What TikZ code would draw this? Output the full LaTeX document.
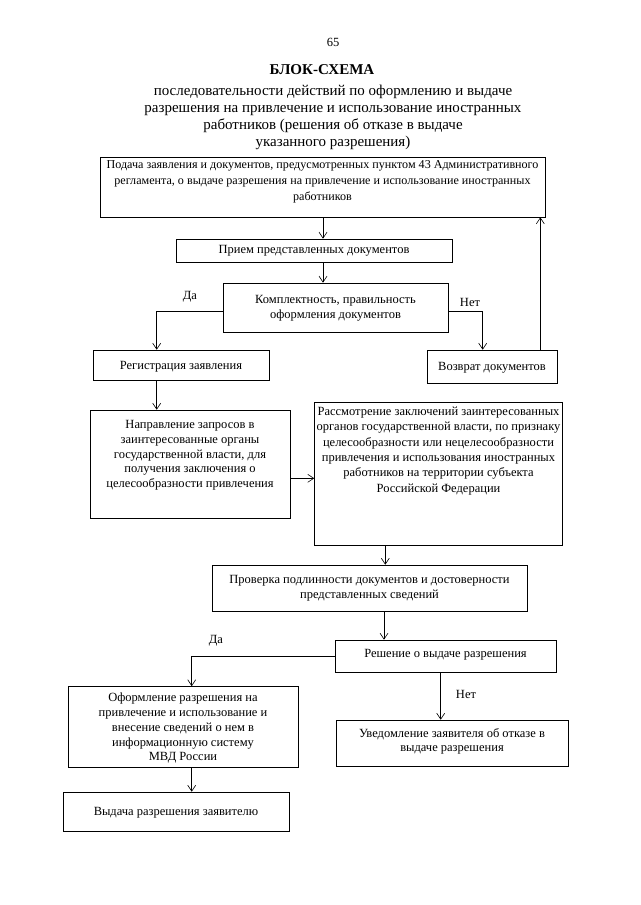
\documentclass[tikz,border=0pt]{standalone}
\usepackage{fontspec}
\setmainfont{Liberation Serif}
\usepackage{tikz}
\usetikzlibrary{calc}
\usetikzlibrary{positioning}
\usetikzlibrary{arrows.meta}
\tikzstyle{stepnode} = [draw, rectangle, align=center, inner xsep=2pt, inner ysep=3pt, font=\fontsize{12.5}{14.7}\selectfont]
\tikzstyle{flow} = [-{Straight Barb[length=6pt,width=8pt]}, line width=0.6pt]
\tikzstyle{lbl} = [font=\fontsize{12.5}{14.7}\selectfont]

\begin{document}
\begin{tikzpicture}[x=1pt, y=-1pt, line width=0.6pt]
    \useasboundingbox (0,0) rectangle (640,905);

    \node[lbl] (page_no) at (333,42) {65};
    \node[font=\fontsize{15}{17}\selectfont\bfseries] (title) at (322,70) {БЛОК-СХЕМА};
    \node[font=\fontsize{15}{17}\selectfont, align=center, anchor=north] (subtitle) at (333,81)
{последовательности действий по оформлению и выдаче\\
разрешения на привлечение и использование иностранных\\
работников (решения об отказе в выдаче\\
указанного разрешения)};

    \node[stepnode, font=\fontsize{12.1}{16}\selectfont, minimum width=445, minimum height=60, text depth=14] (submit) at (322.5,187)
{Подача заявления и документов, предусмотренных пунктом 43 Административного\\
регламента, о выдаче разрешения на привлечение и использование иностранных\\
работников};
    \node[stepnode, minimum width=276, minimum height=23] (accept) at (314,250.5)
{Прием представленных документов};
    \node[stepnode, minimum width=225, minimum height=49, text depth=1] (check) at (335.5,307.5)
{Комплектность, правильность\\ оформления документов};
    \node[stepnode, minimum width=176, minimum height=30, text depth=0] (reg) at (181,365)
{Регистрация заявления};
    \node[stepnode, minimum width=130, minimum height=33, text depth=0] (return) at (492,366.5)
{Возврат документов};

    \node[stepnode, minimum width=200, minimum height=108, text depth=20] (request) at (190,464)
{Направление запросов в\\ заинтересованные органы\\ государственной власти, для\\
получения заключения о\\ целесообразности привлечения};
    \node[stepnode, font=\fontsize{12.5}{15.4}\selectfont, minimum width=243, minimum height=143, text depth=48] (review) at (438.5,473.5)
{Рассмотрение заключений заинтересованных\\ органов государственной власти, по признаку\\
целесообразности или нецелесообразности\\ привлечения и использования иностранных\\
работников на территории субъекта\\ Российской Федерации};

    \node[stepnode, minimum width=315, minimum height=46] (verify) at (369.5,588)
{Проверка подлинности документов и достоверности\\ представленных сведений};
    \node[stepnode, minimum width=221, minimum height=32, text depth=5] (decision) at (445.5,656)
{Решение о выдаче разрешения};
    \node[stepnode, minimum width=230, minimum height=81, text depth=0] (issue) at (183,727)
{Оформление разрешения на\\ привлечение и использование и\\ внесение сведений о нем в\\
информационную систему\\ МВД России};
    \node[stepnode, minimum width=226, minimum height=39, text depth=0] (deliver) at (176,811.5)
{Выдача разрешения заявителю};
    \node[stepnode, minimum width=232, minimum height=46, text depth=6] (notify) at (452,743)
{Уведомление заявителя об отказе в\\ выдаче разрешения};

    \node[lbl] (yes_reg) at (190,297) {Да};
    \node[lbl] (no_return) at (470,302) {Нет};
    \node[lbl] (yes_issue) at (216,641) {Да};
    \node[lbl] (no_notify) at (466,694) {Нет};

    % bend and entry points of the connectors
    \coordinate (sub_out) at ($(submit.south)+(0.5,0)$);
    \coordinate (acc_out) at ($(accept.south)+(9,0)$);
    \coordinate (chk_left) at ($(check.west)+(0,3.5)$);
    \coordinate (chk_right) at ($(check.east)+(0,3.5)$);
    \coordinate (reg_in) at ($(reg.north west)+(64,0)$);
    \coordinate (ret_in) at ($(return.north west)+(56,0)$);
    \coordinate (sub_back) at ($(submit.south east)+(-5,0)$);
    \coordinate (req_out) at ($(request.south east)+(0,-40)$);
    \coordinate (rev_out) at ($(review.south west)+(71,0)$);
    \coordinate (ver_out) at ($(verify.south)+(14.5,0)$);
    \coordinate (iss_in) at ($(issue.north west)+(124,0)$);
    \coordinate (ntf_in) at ($(notify.north west)+(105,0)$);

    \draw[flow] (sub_out) -- (sub_out |- accept.north);
    \draw[flow] (acc_out) -- (acc_out |- check.north);
    \draw[flow] (chk_left) -| (reg_in);
    \draw[flow] (chk_right) -| (ret_in);
    \draw[flow] (return.north -| sub_back) -- (sub_back);
    \draw[flow] (reg_in |- reg.south) -- (reg_in |- request.north);
    \draw[flow] (req_out) -- (req_out -| review.west);
    \draw[flow] (rev_out) -- (rev_out |- verify.north);
    \draw[flow] (ver_out) -- (ver_out |- decision.north);
    \draw[flow] (decision.west) -| (iss_in);
    \draw[flow] (iss_in |- issue.south) -- (iss_in |- deliver.north);
    \draw[flow] (ntf_in |- decision.south) -- (ntf_in);
\end{tikzpicture}
\end{document}
